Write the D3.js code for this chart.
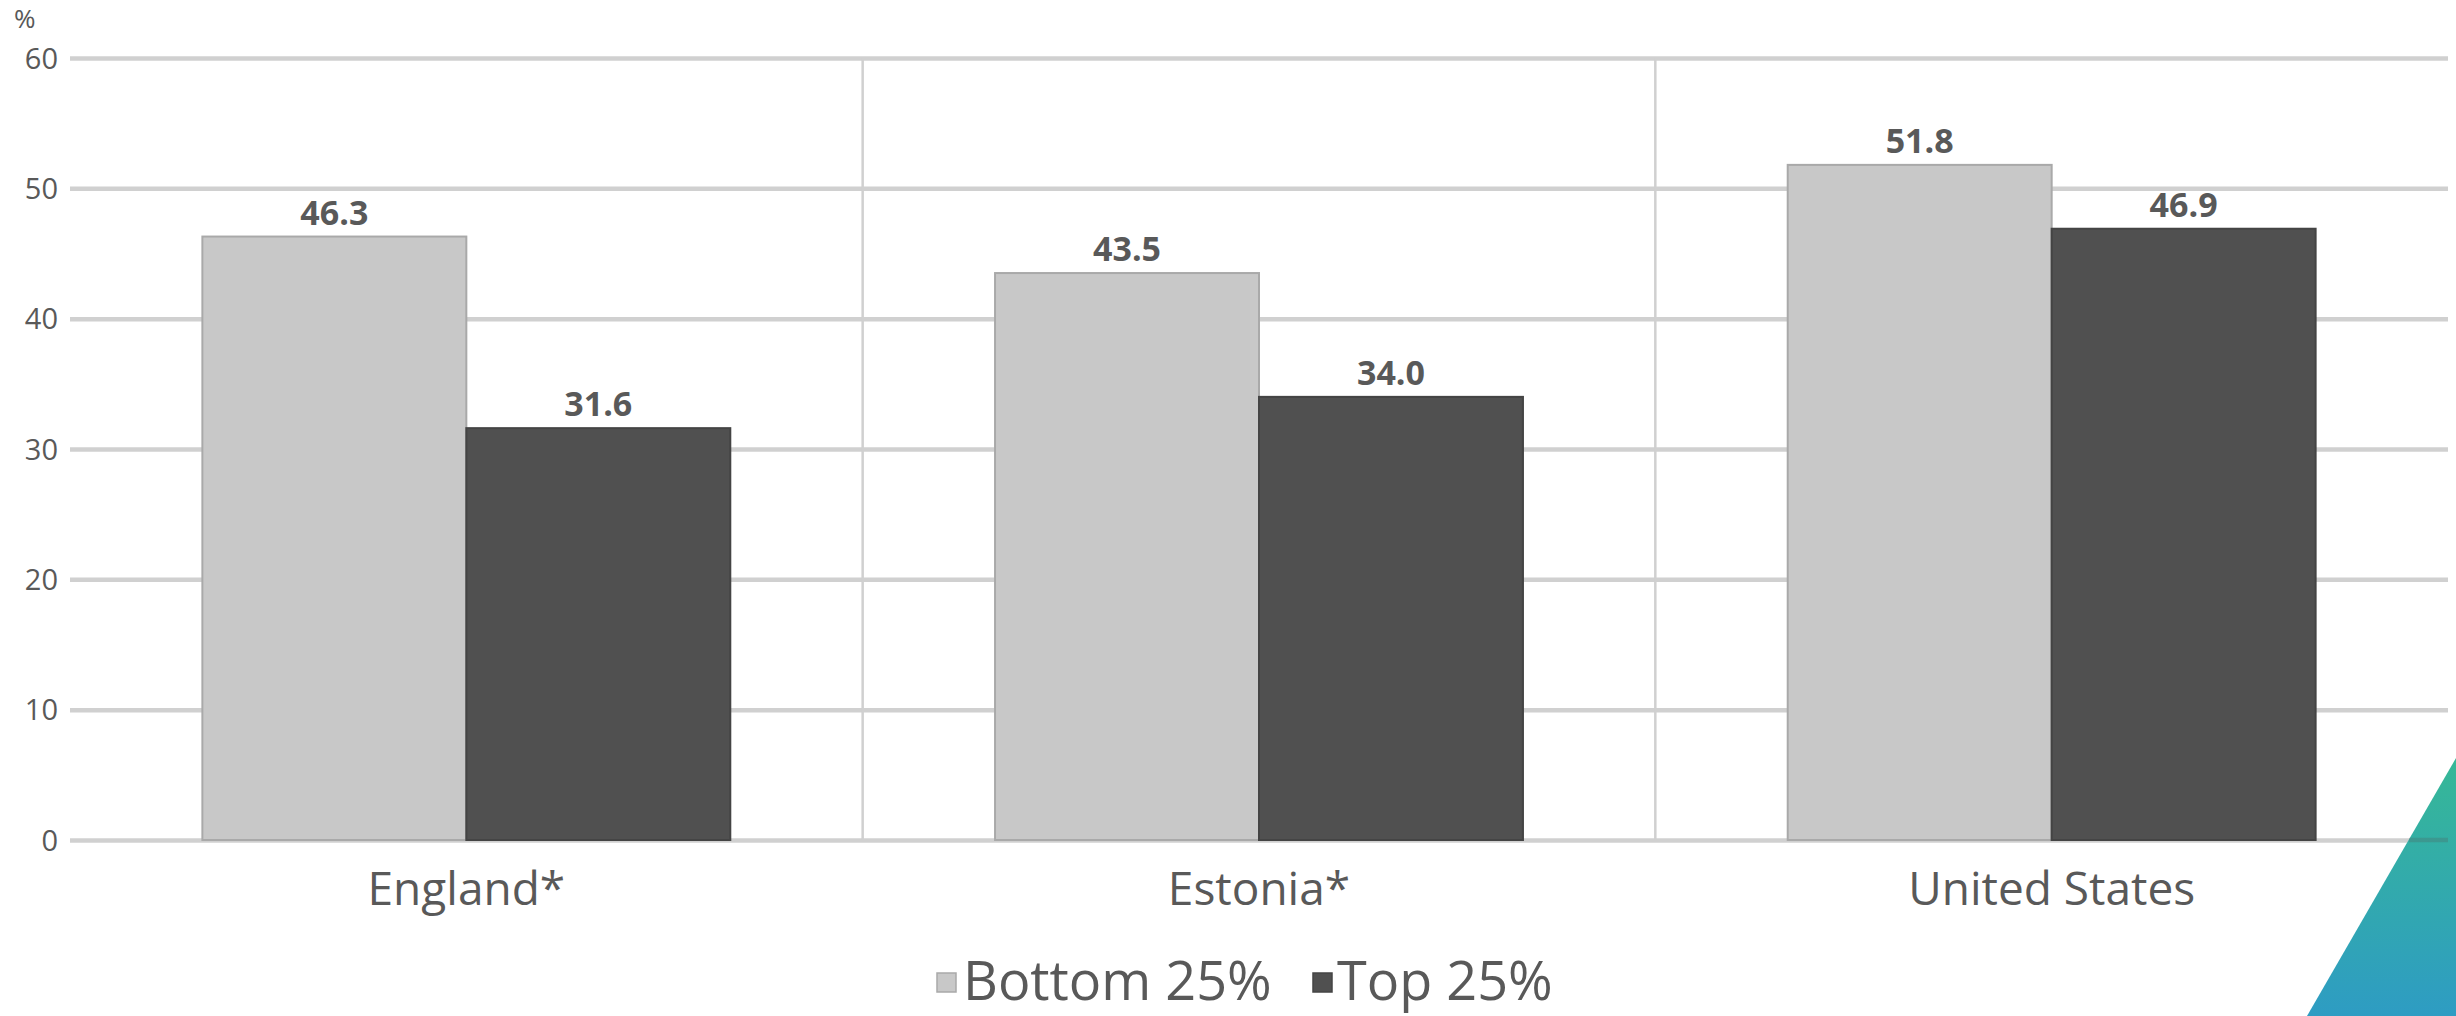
<!DOCTYPE html>
<html>
<head>
<meta charset="utf-8">
<script src="https://cdn.jsdelivr.net/npm/d3@7"></script>
<style>
  html, body { margin: 0; padding: 0; background: #fff; }
  svg { display: block; }
  text { font-family: "Open Sans", "Noto Sans", sans-serif; }
</style>
</head>
<body>
<svg id="chart" width="2456" height="1016"></svg>
<script>
const categories = ["England*", "Estonia*", "United States"];
const seriesNames = ["Bottom 25%", "Top 25%"];
const bottom25 = [46.3, 43.5, 51.8];
const top25 = [31.6, 34.0, 46.9];
const yTicks = [0, 10, 20, 30, 40, 50, 60];
const unitLabel = "%";

const W = 2456, H = 1016;
const plot = { left: 70, right: 2448, top: 58, bottom: 840 };
const colors = ["#c8c8c8", "#505050"];
const strokes = ["#a9a9a9", "#444444"];
const textColor = "#595959";

const svg = d3.select("#chart");

// decorative gradient triangle (bottom right)
const defs = svg.append("defs");
const grad = defs.append("linearGradient").attr("id", "tri").attr("x1", 0).attr("y1", 0).attr("x2", 0).attr("y2", 1);
grad.append("stop").attr("offset", "0%").attr("stop-color", "#36b896");
grad.append("stop").attr("offset", "100%").attr("stop-color", "#2e9cc3");

const y = d3.scaleLinear().domain([0, 60]).range([plot.bottom, plot.top]);
const x0 = d3.scaleBand().domain(categories).range([plot.left, plot.right]).padding(0);
const groupW = x0.bandwidth() * 0.666;
const x1 = d3.scaleBand().domain(seriesNames).range([0, groupW]).padding(0);

// gridlines
const yAxis = d3.axisLeft(y).tickValues(yTicks).tickSize(-(plot.right - plot.left)).tickPadding(12).tickFormat(d3.format("d"));
const gAxis = svg.append("g").attr("transform", `translate(${plot.left},0)`).call(yAxis);
gAxis.select(".domain").remove();
gAxis.selectAll(".tick line").attr("stroke", "#d0d0d0").attr("stroke-width", 4.5);
gAxis.selectAll(".tick text").attr("fill", textColor).attr("font-size", 29).attr("x", -12).attr("dy", "0.35em");

// vertical category separators
const seps = categories.slice(1).map(c => x0(c));
svg.append("g").selectAll("line").data(seps).join("line")
  .attr("x1", d => d).attr("x2", d => d)
  .attr("y1", y(60)).attr("y2", y(0))
  .attr("stroke", "#d0d0d0").attr("stroke-width", 2.5);

// bars
const data = categories.map((c, i) => ({ cat: c, vals: [bottom25[i], top25[i]] }));
const groups = svg.append("g").selectAll("g").data(data).join("g")
  .attr("transform", d => `translate(${x0(d.cat) + (x0.bandwidth() - groupW) / 2},0)`);

groups.selectAll("rect").data(d => d.vals.map((v, j) => ({ v, s: seriesNames[j], j }))).join("rect")
  .attr("x", d => x1(d.s))
  .attr("y", d => y(d.v))
  .attr("width", x1.bandwidth())
  .attr("height", d => y(0) - y(d.v))
  .attr("fill", d => colors[d.j])
  .attr("stroke", d => strokes[d.j])
  .attr("stroke-width", 2);

groups.selectAll("text.val").data(d => d.vals.map((v, j) => ({ v, s: seriesNames[j], j }))).join("text")
  .attr("class", "val")
  .attr("x", d => x1(d.s) + x1.bandwidth() / 2)
  .attr("y", d => y(d.v) - 12)
  .attr("text-anchor", "middle")
  .attr("font-size", 34)
  .attr("font-weight", "bold")
  .attr("fill", textColor)
  .text(d => d3.format(".1f")(d.v));

// category labels
svg.append("g").selectAll("text").data(categories).join("text")
  .attr("x", d => x0(d) + x0.bandwidth() / 2)
  .attr("y", 905)
  .attr("text-anchor", "middle")
  .attr("font-size", 46)
  .attr("fill", textColor)
  .text(d => d);

// unit label
svg.append("text").attr("x", 14).attr("y", 28).attr("font-size", 26).attr("fill", textColor).text(unitLabel);

// legend
const legendItems = [
  { name: seriesNames[0], x: 937, tx: 963 },
  { name: seriesNames[1], x: 1313, tx: 1337 }
];
const lg = svg.append("g");
lg.selectAll("rect").data(legendItems).join("rect")
  .attr("x", d => d.x).attr("y", 973).attr("width", 19).attr("height", 19)
  .attr("fill", (d, i) => colors[i]).attr("stroke", (d, i) => strokes[i]).attr("stroke-width", 1.5);
lg.selectAll("text").data(legendItems).join("text")
  .attr("x", d => d.tx).attr("y", 1000)
  .attr("font-size", 54).attr("fill", textColor)
  .text(d => d.name);

// triangle
svg.append("path")
  .attr("d", d3.line()([[2456, 758], [2307, 1016], [2456, 1016]]) + "Z")
  .attr("fill", "url(#tri)");
// baseline faintly visible over triangle
svg.append("line").attr("x1", 2409).attr("x2", plot.right).attr("y1", y(0)).attr("y2", y(0))
  .attr("stroke", "#555").attr("stroke-opacity", 0.25).attr("stroke-width", 4.5);
</script>
</body>
</html>
